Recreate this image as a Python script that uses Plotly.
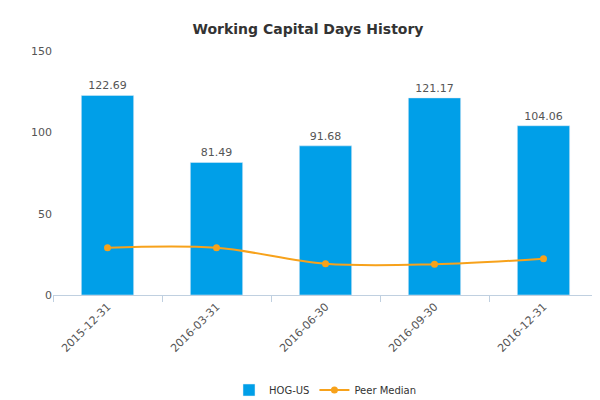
import plotly.graph_objects as go

dates = ["2015-12-31", "2016-03-31", "2016-06-30", "2016-09-30", "2016-12-31"]
hog = [122.69, 81.49, 91.68, 121.17, 104.06]
peer = [29.0, 29.0, 19.2, 18.9, 22.3]

fig = go.Figure()
fig.add_trace(go.Bar(x=dates, y=hog, name="HOG-US", marker_color="#009fe8",
                     width=0.48, text=[f"{v:.2f}" for v in hog], textposition="outside",
                     textfont=dict(size=11, color="#555"), cliponaxis=False))
fig.add_trace(go.Scatter(x=dates, y=peer, name="Peer Median", mode="lines+markers",
                         line=dict(color="#f7a21b", width=2, shape="spline"),
                         marker=dict(size=7, color="#f7a21b")))

fig.update_layout(
    width=600, height=400, plot_bgcolor="white", paper_bgcolor="white",
    font=dict(family="DejaVu Sans", size=11, color="#555"),
    title=dict(text="<b>Working Capital Days History</b>", x=0.5, y=0.96,
               font=dict(size=14, color="#333")),
    margin=dict(l=45, r=10, t=43, b=113, autoexpand=False),
    showlegend=True,
    legend=dict(orientation="h", x=0.5, xanchor="center", y=-0.33, yanchor="top",
                font=dict(size=10, color="#333")),
    xaxis=dict(type="category", tickangle=-45, showline=True, linecolor="#c0d0e0",
               ticks="outside", tickcolor="#c0d0e0", ticklen=6,
               tickson="boundaries", tickfont=dict(color="#555")),
    yaxis=dict(range=[0, 150], dtick=50, showgrid=False, zeroline=False,
               tickfont=dict(color="#555")),
    annotations=[dict(text="www.capitalcube.com", xref="paper", yref="paper",
                      x=1.0, y=-0.42, xanchor="right", yanchor="top", showarrow=False,
                      font=dict(size=9, color="#777"))],
)
fig.write_html("out.html")
